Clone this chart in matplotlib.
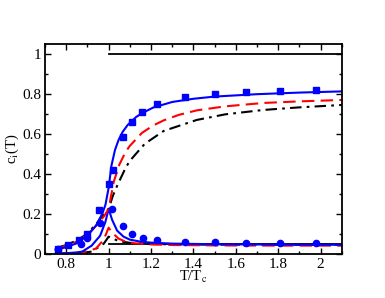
import matplotlib
matplotlib.use("Agg")
import matplotlib.pyplot as plt
from matplotlib.ticker import MultipleLocator

plt.rcParams['font.family'] = ['Liberation Serif', 'DejaVu Serif']
plt.rcParams['mathtext.fontset'] = 'stix'

# Blue squares (data)
sq_x = [0.76, 0.81, 0.86, 0.90, 0.955, 1.0, 1.019, 1.066, 1.11, 1.157, 1.23, 1.36, 1.50, 1.65, 1.81, 1.98]
sq_y = [0.025, 0.045, 0.07, 0.10, 0.22, 0.35, 0.42, 0.585, 0.66, 0.71, 0.75, 0.785, 0.80, 0.81, 0.815, 0.82]
# Blue circles (data)
ci_x = [0.76, 0.87, 0.90, 0.958, 1.018, 1.07, 1.112, 1.16, 1.23, 1.36, 1.50, 1.65, 1.81, 1.98]
ci_y = [0.025, 0.05, 0.077, 0.155, 0.226, 0.14, 0.097, 0.077, 0.068, 0.06, 0.056, 0.054, 0.054, 0.051]

# Blue solid (upper)
bu_x = [0.75, 0.80, 0.85, 0.90, 0.94, 0.97, 0.985, 1.0, 1.013, 1.03, 1.047, 1.066, 1.09, 1.11, 1.13,
        1.16, 1.21, 1.30, 1.40, 1.50, 1.70, 1.90, 2.10]
bu_y = [0.02, 0.032, 0.052, 0.09, 0.14, 0.2, 0.245, 0.33, 0.44, 0.52, 0.57, 0.61, 0.645, 0.665, 0.685,
        0.705, 0.732, 0.76, 0.776, 0.787, 0.799, 0.807, 0.813]
# Red dashed (upper)
ru_x = [0.75, 0.80, 0.85, 0.90, 0.95, 0.98, 1.0, 1.024, 1.05, 1.08, 1.10, 1.157, 1.21, 1.26, 1.33,
        1.416, 1.55, 1.73, 1.90, 2.10]
ru_y = [0.025, 0.04, 0.06, 0.095, 0.15, 0.19, 0.225, 0.36, 0.445, 0.51, 0.54, 0.605, 0.642, 0.668, 0.695,
        0.718, 0.738, 0.755, 0.763, 0.77]
# Black dash-dot (upper)
ku_x = [0.75, 0.80, 0.85, 0.90, 0.95, 0.98, 1.0, 1.02, 1.04, 1.08, 1.10, 1.17, 1.26, 1.416, 1.55,
        1.73, 1.90, 2.10]
ku_y = [0.027, 0.043, 0.066, 0.1, 0.16, 0.2, 0.225, 0.29, 0.34, 0.43, 0.465, 0.55, 0.615, 0.67, 0.698,
        0.72, 0.733, 0.745]

# Blue solid (lower)
bl_x = [0.75, 0.80, 0.85, 0.875, 0.92, 0.96, 0.985, 1.0, 1.016, 1.04, 1.07, 1.10, 1.15, 1.20, 1.30,
        1.50, 1.80, 2.10]
bl_y = [0.0, 0.002, 0.006, 0.01, 0.04, 0.09, 0.16, 0.225, 0.17, 0.115, 0.085, 0.07, 0.06, 0.055, 0.05,
        0.047, 0.045, 0.044]
# Red dashed (lower)
rl_x = [0.75, 0.80, 0.875, 0.94, 0.977, 1.0, 1.016, 1.047, 1.08, 1.12, 1.20, 1.30, 1.50, 1.80, 2.10]
rl_y = [0.0, 0.0, 0.005, 0.025, 0.07, 0.13, 0.105, 0.075, 0.06, 0.052, 0.046, 0.043, 0.041, 0.04, 0.04]
# Black dash-dot (lower)
kl_x = [0.75, 0.85, 0.92, 0.977, 1.0, 1.02, 1.05, 1.10, 1.20, 1.40, 2.10]
kl_y = [0.0, 0.0, 0.01, 0.05, 0.085, 0.075, 0.062, 0.054, 0.048, 0.045, 0.044]

# Black step lines
st_x = [1.0, 2.1]
st_hi = [1.0, 1.0]
st_lo = [0.05, 0.05]

fig = plt.figure(figsize=(3.85, 2.98), dpi=100)
ax = fig.add_axes([0.117, 0.149, 0.771, 0.703])

ax.plot(st_x, st_hi, color='black', lw=1.3)
ax.plot(st_x, st_lo, color='black', lw=1.3)

dd = (5.5, 2.5, 1.3, 2.5)
ax.plot(kl_x, kl_y, color='black', lw=1.5, dashes=dd)
ax.plot(rl_x, rl_y, color='#ff0000', lw=1.5, dashes=(6, 3))
ax.plot(bl_x, bl_y, color='#0000ff', lw=1.5)

ax.plot(ku_x, ku_y, color='black', lw=1.5, dashes=dd)
ax.plot(ru_x, ru_y, color='#ff0000', lw=1.5, dashes=(6, 3))
ax.plot(bu_x, bu_y, color='#0000ff', lw=1.5)

ax.plot(sq_x, sq_y, 's', color='#0000ff', ms=4, mec='#0000ff')
ax.plot(ci_x, ci_y, 'o', color='#0000ff', ms=4.5, mec='#0000ff')

ax.set_xlim(0.7, 2.1)
ax.set_ylim(0.0, 1.05)
ax.xaxis.set_minor_locator(MultipleLocator(0.1))
ax.yaxis.set_minor_locator(MultipleLocator(0.1))
ax.set_xticks([0.8, 1.0, 1.2, 1.4, 1.6, 1.8, 2.0])
ax.set_xticklabels(['0.8', '1', '1.2', '1.4', '1.6', '1.8', '2'])
ax.set_yticks([0, 0.2, 0.4, 0.6, 0.8, 1.0])
ax.set_yticklabels(['0', '0.2', '0.4', '0.6', '0.8', '1'])
ax.tick_params(which='both', direction='in', top=True, right=True, labelsize=11, width=1, pad=3)
ax.tick_params(which='major', length=4)
ax.tick_params(which='minor', length=2)
for s in ax.spines.values():
    s.set_linewidth(1.3)

ax.set_xlabel('T/T$_\\mathrm{c}$', fontsize=10.5, labelpad=-1)
ax.set_ylabel('c$_\\mathrm{i}$(T)', fontsize=10.5)
ax.yaxis.set_label_coords(-0.08, 0.5)

fig.savefig('out.png', dpi=100)
